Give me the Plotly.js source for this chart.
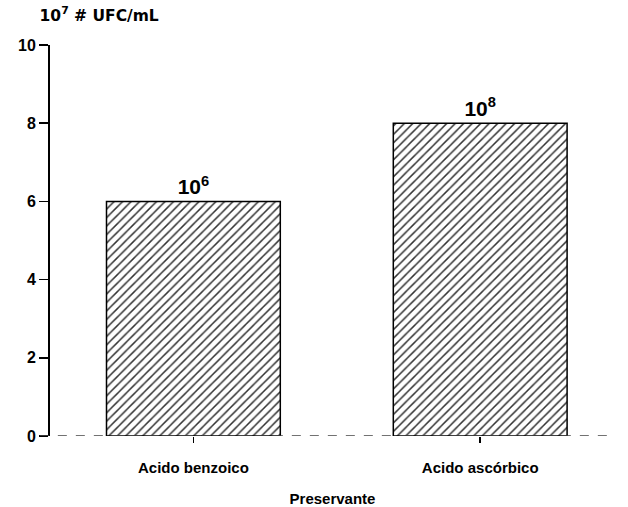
<!DOCTYPE html>
<html>
<head>
<meta charset="utf-8">
<script src="https://cdn.plot.ly/plotly-3.0.1.min.js"></script>
<style>html,body{margin:0;padding:0;background:#fff;}#chart{width:628px;height:507px;}</style>
</head>
<body>
<div id="chart"></div>
<script>
const categories = ["Acido benzoico", "Acido ascórbico"];
const values = [6, 8];
const barLabels = ["10<sup>6</sup>", "10<sup>8</sup>"];
const yTicks = [0, 2, 4, 6, 8, 10];
const yTitle = "10<sup>7</sup> # UFC/mL";
const xTitle = "Preservante";

const font = {family: "Liberation Sans, Arial, sans-serif", color: "#000"};
const wide = {family: "DejaVu Sans, sans-serif", color: "#000"};

const trace = {
  type: "bar",
  x: categories,
  y: values,
  width: 0.606,
  text: barLabels,
  textposition: "outside",
  cliponaxis: false,
  textfont: Object.assign({}, font, {size: 21, weight: "bold"}),
  marker: {
    color: "#ffffff",
    line: {color: "#000", width: 1.5},
    pattern: {shape: "/", fgcolor: "#333", bgcolor: "#fff", size: 6, solidity: 0.25}
  },
  hoverinfo: "none"
};

const layout = {
  width: 628, height: 507,
  margin: {l: 50, r: 13, t: 45, b: 71},
  paper_bgcolor: "#fff", plot_bgcolor: "#fff",
  showlegend: false,
  font: font,
  title: {text: yTitle, font: Object.assign({}, wide, {size: 15.5, weight: "bold"}), xref: "container", x: 0.063, xanchor: "left", yref: "container", y: 0.98, yanchor: "top"},
  xaxis: {
    type: "category",
    range: [-0.5, 1.47],
    showline: false, showgrid: false, zeroline: false,
    ticks: "outside", ticklen: 6, tickwidth: 1.5, tickcolor: "#000",
    ticklabelstandoff: 12,
    tickfont: Object.assign({}, font, {size: 15, weight: "bold"}),
    title: {text: xTitle, font: Object.assign({}, font, {size: 15, weight: "bold"}), standoff: 18}
  },
  yaxis: {
    range: [0, 10],
    tickvals: yTicks,
    showline: true, linecolor: "#000", linewidth: 2,
    showgrid: false, zeroline: false,
    ticks: "outside", ticklen: 9, tickwidth: 1.5, tickcolor: "#000",
    tickfont: Object.assign({}, font, {size: 16, weight: "bold"})
  },
  shapes: [{
    type: "line", xref: "paper", yref: "y",
    x0: -0.018, x1: 1, y0: 0, y1: 0,
    line: {color: "#444", width: 1.5, dash: "dash"}
  }],
  bargap: 0.4
};

Plotly.newPlot("chart", [trace], layout, {displayModeBar: false, staticPlot: true});
</script>
</body>
</html>
